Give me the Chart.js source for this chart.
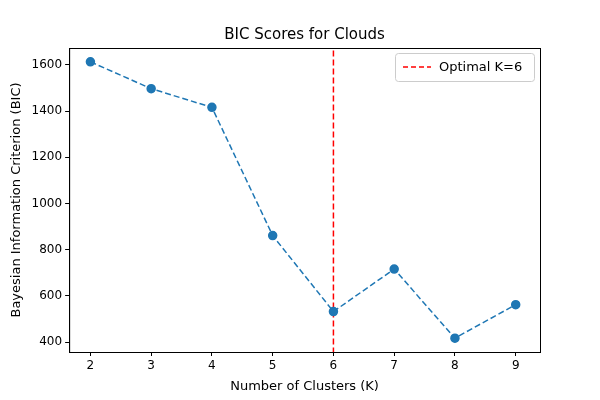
<!DOCTYPE html>
<html>
<head>
<meta charset="utf-8">
<script src="https://cdn.jsdelivr.net/npm/chart.js@4"></script>
<style>body{margin:0}#wrap{width:600px;height:400px}</style>
</head>
<body>
<div id="wrap"><canvas id="bic"></canvas></div>
<script>
// données
var clusters = [2, 3, 4, 5, 6, 7, 8, 9];
var bic = [1613, 1497, 1416, 861, 532, 716, 417, 562];
var optimalK = 6;
var yTicks = [400, 600, 800, 1000, 1200, 1400, 1600];

// cadre, titre centré sur la zone du tracé et légende en haut à droite
var decor = {
  id: 'decor',
  afterDraw: function (chart) {
    var c = chart.ctx, a = chart.chartArea;
    c.save();
    c.strokeStyle = '#000';
    c.lineWidth = 1;
    c.strokeRect(a.left + 0.5, a.top + 0.5, a.right - a.left, a.bottom - a.top);
    c.fillStyle = '#000';
    c.font = '15px "DejaVu Sans"';
    c.textAlign = 'center';
    c.textBaseline = 'alphabetic';
    c.fillText('BIC Scores for Clouds', (a.left + a.right) / 2, a.top - 9);
    c.textAlign = 'left';
    var w = 139, h = 28, x = a.right - w - 6, y = a.top + 5;
    c.fillStyle = 'rgba(255,255,255,0.8)';
    c.strokeStyle = '#cccccc';
    c.beginPath();
    c.roundRect(x + 0.5, y + 0.5, w, h, 3);
    c.fill(); c.stroke();
    c.strokeStyle = 'red';
    c.lineWidth = 1.5;
    c.setLineDash([5, 3]);
    c.beginPath();
    c.moveTo(x + 8, y + h / 2); c.lineTo(x + 36, y + h / 2);
    c.stroke();
    c.setLineDash([]);
    c.fillStyle = '#000';
    c.font = '13px "DejaVu Sans"';
    c.textBaseline = 'middle';
    c.fillText('Optimal K=' + optimalK, x + 44, y + h / 2 + 1);
    c.restore();
  }
};

var tickFont = { family: 'DejaVu Sans', size: 12 };
var ctx = document.getElementById('bic').getContext('2d');
new Chart(ctx, {
  type: 'scatter',
  data: {
    datasets: [{
      label: 'BIC',
      data: clusters.map(function (k, i) { return { x: k, y: bic[i] }; }),
      showLine: true,
      borderColor: '#1f77b4',
      backgroundColor: '#1f77b4',
      borderDash: [6, 3],
      borderWidth: 1.5,
      pointRadius: 4,
      pointHoverRadius: 4
    }, {
      label: 'Optimal K=' + optimalK,
      data: [{ x: optimalK, y: 0 }, { x: optimalK, y: 2000 }],
      showLine: true,
      borderColor: 'red',
      borderDash: [6, 3],
      borderWidth: 1.5,
      pointRadius: 0
    }]
  },
  options: {
    responsive: true,
    maintainAspectRatio: false,
    animation: false,
    layout: { padding: { left: 5, right: 60, top: 48, bottom: 2 } },
    scales: {
      x: {
        type: 'linear', min: 1.65, max: 9.4,
        grid: { display: true, drawOnChartArea: false, color: '#000', tickLength: 4 },
        border: { color: '#000' },
        afterBuildTicks: function (s) { s.ticks = clusters.map(function (v) { return { value: v }; }); },
        ticks: { color: '#000', font: tickFont, padding: 3 },
        title: { display: true, text: 'Number of Clusters (K)', color: '#000', font: { family: 'DejaVu Sans', size: 13 }, padding: { top: 2 } }
      },
      y: {
        min: 357, max: 1673,
        grid: { display: true, drawOnChartArea: false, color: '#000', tickLength: 4 },
        border: { color: '#000' },
        afterBuildTicks: function (s) { s.ticks = yTicks.map(function (v) { return { value: v }; }); },
        ticks: { color: '#000', font: tickFont, padding: 3, callback: function (v) { return String(v); } },
        title: { display: true, text: 'Bayesian Information Criterion (BIC)', color: '#000', font: { family: 'DejaVu Sans', size: 13 } }
      }
    },
    plugins: {
      legend: { display: false },
      tooltip: { enabled: false },
      title: { display: false }
    }
  },
  plugins: [decor]
});
</script>
</body>
</html>
